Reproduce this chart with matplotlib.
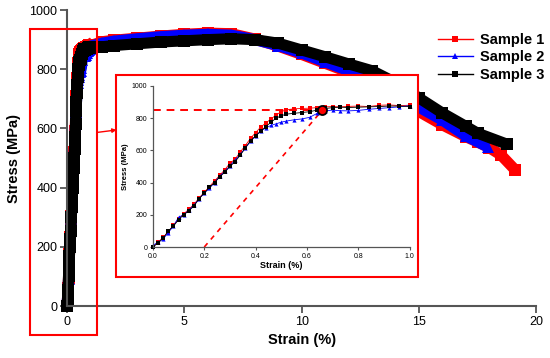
import matplotlib
matplotlib.use("Agg")
import matplotlib.pyplot as plt
from matplotlib.lines import Line2D
from matplotlib.patches import Rectangle

# --- inset data: first 1 % of strain ---
inset_strain = [0.00, 0.02, 0.04, 0.06, 0.08, 0.10, 0.12, 0.14, 0.16, 0.18, 0.20,
                0.22, 0.24, 0.26, 0.28, 0.30, 0.32, 0.34, 0.36, 0.38, 0.40, 0.42,
                0.44, 0.46, 0.48, 0.50, 0.52, 0.55, 0.58, 0.61, 0.64, 0.67, 0.70,
                0.73, 0.76, 0.80, 0.84, 0.88, 0.92, 0.96, 1.00]
inset_s1 = [0, 30, 60, 95, 135, 175, 205, 235, 265, 305, 340,
            375, 410, 445, 480, 520, 545, 590, 630, 675, 710, 745,
            770, 795, 820, 840, 852, 858, 860, 862, 865, 870, 872,
            870, 873, 875, 872, 880, 882, 878, 880]
inset_s2 = [10, 30, 50, 90, 130, 185, 200, 230, 260, 300, 335,
            365, 400, 440, 470, 505, 540, 575, 615, 655, 690, 720,
            740, 755, 765, 775, 782, 790, 795, 805, 830, 845, 850,
            846, 845, 848, 855, 860, 865, 870, 878]
inset_s3 = [0, 25, 55, 100, 130, 170, 200, 225, 255, 300, 335,
            370, 400, 435, 465, 500, 530, 570, 615, 660, 690, 720,
            748, 775, 800, 815, 825, 830, 835, 840, 850, 860, 865,
            868, 866, 868, 870, 872, 875, 875, 872]

# --- main data beyond 1 % strain ---
tail_s1_strain = [1.5, 2, 3, 4, 5, 6, 7, 8, 9, 10, 11, 12, 13, 14, 15, 16, 17, 17.5, 18, 18.5, 19.1]
tail_s1 = [893, 898, 905, 912, 918, 922, 920, 902, 878, 850, 820, 790, 755, 712, 657, 612, 572, 554, 535, 510, 460]
tail_s2_strain = [1.5, 2, 3, 4, 5, 6, 7, 8, 9, 10, 11, 12, 13, 14, 15, 16, 17, 17.95]
tail_s2 = [888, 895, 903, 910, 915, 918, 915, 900, 880, 855, 825, 795, 760, 720, 672, 628, 575, 537]
tail_s3_strain = [1.5, 2, 3, 4, 5, 6, 7, 8, 9, 10, 11, 12, 13, 14, 15, 16, 17, 17.5, 18.75]
tail_s3 = [876, 880, 886, 892, 896, 900, 903, 900, 888, 865, 842, 818, 795, 755, 703, 652, 607, 584, 547]

labels = ["Sample 1", "Sample 2", "Sample 3"]
colors = ["#ff0000", "#0000ff", "#000000"]
markers = ["s", "^", "s"]

yield_strain = 0.66
yield_stress = 850
offset_strain = 0.2

main_x = [inset_strain + tail_s1_strain, inset_strain + tail_s2_strain, inset_strain + tail_s3_strain]
main_y = [inset_s1 + tail_s1, inset_s2 + tail_s2, inset_s3 + tail_s3]
inset_y = [inset_s1, inset_s2, inset_s3]

tick_font = "Liberation Sans"
label_font = "Liberation Sans"
spine_color = "#555555"

fig = plt.figure(figsize=(5.5, 3.58), dpi=100)
ax = fig.add_axes([0.122, 0.145, 0.853, 0.827])

for x, y, c, m in zip(main_x, main_y, colors, markers):
    ax.plot(x, y, color=c, linewidth=8, marker=m, markersize=8,
            markeredgewidth=0, clip_on=False, solid_joinstyle="miter",
            solid_capstyle="butt")

ax.set_xlim(0, 20)
ax.set_ylim(0, 1000)
ax.set_xticks([0, 5, 10, 15, 20])
ax.set_yticks(range(0, 1001, 200))
for side in ["top", "right"]:
    ax.spines[side].set_visible(False)
for side in ["left", "bottom"]:
    ax.spines[side].set_color(spine_color)
    ax.spines[side].set_linewidth(1.5)
ax.tick_params(direction="out", length=5, width=1.3, color=spine_color,
               labelsize=9, pad=2)
for lab in ax.get_xticklabels() + ax.get_yticklabels():
    lab.set_fontfamily(tick_font)
ax.set_xlabel("Strain (%)", fontsize=10.5, fontweight="bold", family=label_font, labelpad=4)
ax.set_ylabel("Stress (MPa)", fontsize=10.5, fontweight="bold", family=label_font, labelpad=6)

# highlight box around the elastic region and zoom box
fig.patches.append(Rectangle((0.0545, 0.064), 0.1215, 0.855, transform=fig.transFigure,
                             fill=False, edgecolor="#ff0000", linewidth=1.5, zorder=3))
fig.patches.append(Rectangle((0.211, 0.226), 0.549, 0.565, transform=fig.transFigure,
                             facecolor="white", edgecolor="#ff0000", linewidth=1.5, zorder=3))
ax.annotate("", xy=(0.212, 0.637), xytext=(0.176, 0.630),
            xycoords="figure fraction", textcoords="figure fraction",
            arrowprops=dict(arrowstyle="-|>", color="#ff0000", lw=1.0,
                            mutation_scale=6, shrinkA=0, shrinkB=0),
            annotation_clip=False)

# inset
ins = fig.add_axes([0.278, 0.310, 0.467, 0.450], zorder=5)
ins.patch.set_alpha(0)
ins.plot([0, yield_strain], [yield_stress, yield_stress], color="#ff0000",
         linestyle=(0, (4, 3)), linewidth=1.4)
ins.plot([offset_strain, yield_strain], [0, yield_stress], color="#ff0000",
         linestyle=(0, (3, 3)), linewidth=1.2)
for y, c, m in zip(inset_y, colors, markers):
    ins.plot(inset_strain, y, color=c, linewidth=0.6, marker=m, markersize=3,
             markeredgewidth=0, clip_on=False)
ins.plot([yield_strain], [yield_stress], marker="o", markersize=6.5,
         markerfacecolor="#ff0000", markeredgecolor="black", markeredgewidth=1.3)
ins.set_xlim(0, 1)
ins.set_ylim(0, 1000)
ins.set_xticks([0.0, 0.2, 0.4, 0.6, 0.8, 1.0])
ins.set_yticks(range(0, 1001, 200))
ins.set_xticklabels(["0.0", "0.2", "0.4", "0.6", "0.8", "1.0"])
for side in ["top", "right"]:
    ins.spines[side].set_visible(False)
for side in ["left", "bottom"]:
    ins.spines[side].set_color(spine_color)
    ins.spines[side].set_linewidth(0.9)
ins.tick_params(direction="out", length=2.5, width=0.8, color=spine_color,
                labelsize=5, pad=1.5)
for lab in ins.get_xticklabels() + ins.get_yticklabels():
    lab.set_fontfamily(tick_font)
ins.set_xlabel("Strain (%)", fontsize=6.5, fontweight="bold", family=label_font, labelpad=1)
ins.set_ylabel("Stress (MPa)", fontsize=5.5, fontweight="bold", family=label_font, labelpad=2)

handles = [Line2D([], [], color=c, marker=m, markersize=5, linewidth=1.0, markeredgewidth=0)
           for c, m in zip(colors, markers)]
fig.legend(handles, labels, loc="upper left", bbox_to_anchor=(0.785, 0.925),
           frameon=False, prop={"family": label_font, "weight": "bold", "size": 10.5},
           handlelength=2.4, handletextpad=0.5, labelspacing=0.25, borderaxespad=0)

fig.savefig("out.png", dpi=100)
